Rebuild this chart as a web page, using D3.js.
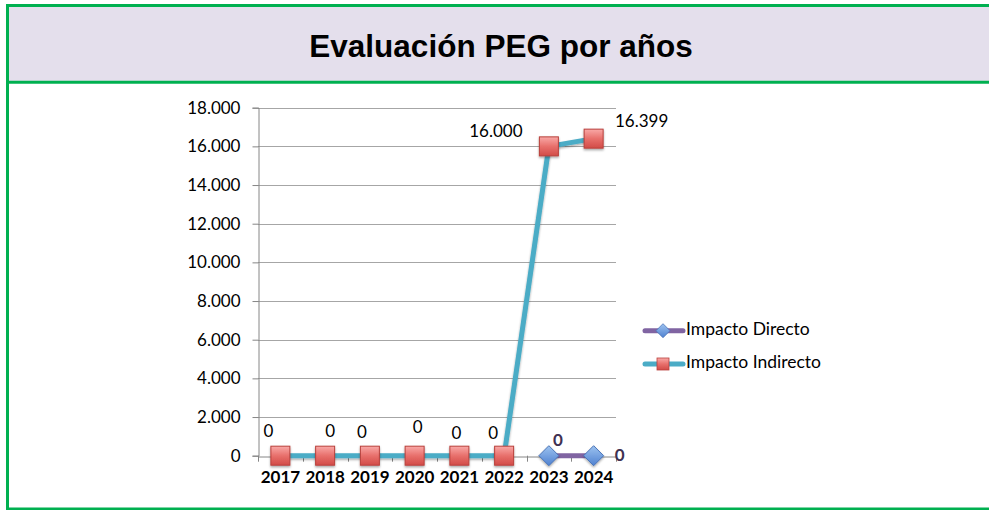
<!DOCTYPE html>
<html>
<head>
<meta charset="utf-8">
<script src="https://cdn.jsdelivr.net/npm/d3@7"></script>
<style>
  html, body { margin: 0; padding: 0; background: #fff; }
  svg { display: block; }
</style>
</head>
<body>
<svg id="chart" width="989" height="510"></svg>
<script>
const title = "Evaluación PEG por años";
const years = ["2017", "2018", "2019", "2020", "2021", "2022", "2023", "2024"];
const impactoDirecto = [null, null, null, null, null, null, 0, 0];
const impactoIndirecto = [0, 0, 0, 0, 0, 0, 16000, 16399];
const yTicks = [0, 2000, 4000, 6000, 8000, 10000, 12000, 14000, 16000, 18000];
const seriesNames = ["Impacto Directo", "Impacto Indirecto"];

const fmt = v => d3.format(",")(v).replace(/,/g, ".");

const svg = d3.select("#chart");
const W = 989, H = 510;
const green = "#00B050";

// background header band
svg.append("rect").attr("x", 6).attr("y", 5).attr("width", W - 6).attr("height", 77).attr("fill", "#E4DFEC");
// green frame lines
svg.append("line").attr("x1", 6).attr("x2", W).attr("y1", 5.5).attr("y2", 5.5).attr("stroke", green).attr("stroke-width", 3);
svg.append("line").attr("x1", 6).attr("x2", W).attr("y1", 82.2).attr("y2", 82.2).attr("stroke", green).attr("stroke-width", 3);
svg.append("line").attr("x1", 7.5).attr("x2", 7.5).attr("y1", 4).attr("y2", 510).attr("stroke", green).attr("stroke-width", 3);
svg.append("line").attr("x1", 6).attr("x2", W).attr("y1", 509).attr("y2", 509).attr("stroke", green).attr("stroke-width", 3);

svg.append("text").attr("x", 501).attr("y", 57).attr("text-anchor", "middle")
  .attr("font-family", "Liberation Sans, Arial, sans-serif").attr("font-weight", "bold")
  .attr("font-size", 31.5).attr("fill", "#000").text(title);

const defs = svg.append("defs");
const gRed = defs.append("linearGradient").attr("id", "gRed").attr("x1", 0).attr("y1", 0).attr("x2", 0).attr("y2", 1);
gRed.append("stop").attr("offset", "0%").attr("stop-color", "#F9A9A7");
gRed.append("stop").attr("offset", "50%").attr("stop-color", "#E8706C");
gRed.append("stop").attr("offset", "100%").attr("stop-color", "#D24B47");
const gBlue = defs.append("linearGradient").attr("id", "gBlue").attr("x1", 0).attr("y1", 0).attr("x2", 0).attr("y2", 1);
gBlue.append("stop").attr("offset", "0%").attr("stop-color", "#9DC3F0");
gBlue.append("stop").attr("offset", "100%").attr("stop-color", "#4F81D0");
const shadow = defs.append("filter").attr("id", "sh").attr("x", "-30%").attr("y", "-30%").attr("width", "160%").attr("height", "170%");
shadow.append("feDropShadow").attr("dx", 0).attr("dy", 1.5).attr("stdDeviation", 1.2).attr("flood-color", "#000").attr("flood-opacity", 0.35);

const x0 = 258, x1 = 616, yTop = 107.7, yBot = 455.7;
const x = d3.scaleBand().domain(years).range([x0, x1]);
const y = d3.scaleLinear().domain([0, 18000]).range([yBot, yTop]);
const cx = d => x(d) + x.bandwidth() / 2;

const labelFont = "Lato, 'Open Sans', sans-serif";
const fs = 17;

// gridlines
svg.append("g").selectAll("line").data(yTicks.filter(t => t > 0)).join("line")
  .attr("x1", x0).attr("x2", x1).attr("y1", d => Math.round(y(d)) + 0.5).attr("y2", d => Math.round(y(d)) + 0.5)
  .attr("stroke", "#A6A6A6").attr("stroke-width", 1);

// y axis
const yAxis = svg.append("g").attr("transform", `translate(${x0 + 0.5},0)`)
  .call(d3.axisLeft(y).tickValues(yTicks).tickFormat(fmt).tickSizeOuter(0).tickSize(6).tickPadding(12));
yAxis.select(".domain").attr("stroke", "#868686");
yAxis.selectAll(".tick line").attr("stroke", "#868686");
yAxis.selectAll("text").attr("font-family", labelFont).attr("font-size", fs).attr("fill", "#000");

// x axis
const xAxis = svg.append("g").attr("transform", `translate(0,${Math.round(yBot) + 0.5})`)
  .call(d3.axisBottom(x).tickSize(0).tickPadding(12).tickSizeOuter(0));
xAxis.select(".domain").attr("stroke", "#868686");
xAxis.selectAll("text").attr("font-family", labelFont).attr("font-weight", "bold").attr("font-size", fs).attr("fill", "#000").attr("dy", "0.85em");
// tick marks at band boundaries
svg.append("g").selectAll("line").data(years.concat(["end"])).join("line")
  .attr("x1", (d, i) => Math.round(x0 + i * x.step()) + 0.5).attr("x2", (d, i) => Math.round(x0 + i * x.step()) + 0.5)
  .attr("y1", yBot).attr("y2", yBot + 6).attr("stroke", "#868686");

// lines
const line = d3.line().defined(d => d.v !== null).x(d => cx(d.year)).y(d => y(d.v));
const indData = years.map((yr, i) => ({ year: yr, v: impactoIndirecto[i] }));
const dirData = years.map((yr, i) => ({ year: yr, v: impactoDirecto[i] }));

svg.append("path").datum(indData).attr("d", line).attr("fill", "none")
  .attr("stroke", "#4BACC6").attr("stroke-width", 5).attr("stroke-linejoin", "round").attr("filter", "url(#sh)");
svg.append("path").datum(dirData).attr("d", line).attr("fill", "none")
  .attr("stroke", "#8064A2").attr("stroke-width", 5).attr("stroke-linejoin", "round");

// markers indirect
svg.append("g").selectAll("rect").data(indData).join("rect")
  .attr("x", d => cx(d.year) - 9.5).attr("y", d => y(d.v) - 9.5).attr("width", 19).attr("height", 19)
  .attr("fill", "url(#gRed)").attr("stroke", "#B9403C").attr("stroke-width", 1).attr("filter", "url(#sh)");

// markers direct (diamonds)
const diamond = s => `M0,${-s}L${s},0L0,${s}L${-s},0Z`;
svg.append("g").selectAll("path").data(dirData.filter(d => d.v !== null)).join("path")
  .attr("transform", d => `translate(${cx(d.year)},${y(d.v)})`).attr("d", diamond(10))
  .attr("fill", "url(#gBlue)").attr("stroke", "#4A74B8").attr("stroke-width", 1).attr("filter", "url(#sh)");

// data labels indirect (offsets as placed in the reference)
const indLabelOffsets = [[-12, -23], [5, -23], [-8, -22], [3, -27], [-3, -21], [-11, -21], [-53, -14], [48, -16]];
svg.append("g").selectAll("text").data(indData).join("text")
  .attr("x", (d, i) => cx(d.year) + indLabelOffsets[i][0])
  .attr("y", (d, i) => y(d.v) + indLabelOffsets[i][1])
  .attr("text-anchor", "middle").attr("dominant-baseline", "middle")
  .attr("font-family", labelFont).attr("font-size", fs).attr("fill", "#000")
  .text(d => fmt(d.v));

// data labels direct
const dirLabelOffsets = [null, null, null, null, null, null, [9, -14], [26, 1]];
svg.append("g").selectAll("text").data(dirData.map((d, i) => ({ ...d, i })).filter(d => d.v !== null)).join("text")
  .attr("x", d => cx(d.year) + dirLabelOffsets[d.i][0])
  .attr("y", d => y(d.v) + dirLabelOffsets[d.i][1])
  .attr("text-anchor", "middle").attr("dominant-baseline", "middle")
  .attr("font-family", labelFont).attr("font-weight", "bold").attr("font-size", fs).attr("fill", "#3F3151")
  .text(d => fmt(d.v));

// legend
const legend = svg.append("g");
const legItems = [
  { name: seriesNames[0], color: "#8064A2", y: 330.7, shape: "diamond" },
  { name: seriesNames[1], color: "#4BACC6", y: 364, shape: "square" }
];
legItems.forEach(it => {
  legend.append("line").attr("x1", 645).attr("x2", 683).attr("y1", it.y).attr("y2", it.y)
    .attr("stroke", it.color).attr("stroke-width", 5).attr("stroke-linecap", "round");
  if (it.shape === "diamond") {
    legend.append("path").attr("transform", `translate(663,${it.y})`).attr("d", diamond(7))
      .attr("fill", "url(#gBlue)").attr("stroke", "#4A74B8").attr("stroke-width", 0.8);
  } else {
    legend.append("rect").attr("x", 663 - 6).attr("y", it.y - 6).attr("width", 12).attr("height", 12)
      .attr("fill", "url(#gRed)").attr("stroke", "#B9403C").attr("stroke-width", 0.8);
  }
  legend.append("text").attr("x", 686).attr("y", it.y).attr("dominant-baseline", "middle")
    .attr("font-family", labelFont).attr("font-size", 17.5).attr("fill", "#000").text(it.name);
});
</script>
</body>
</html>
